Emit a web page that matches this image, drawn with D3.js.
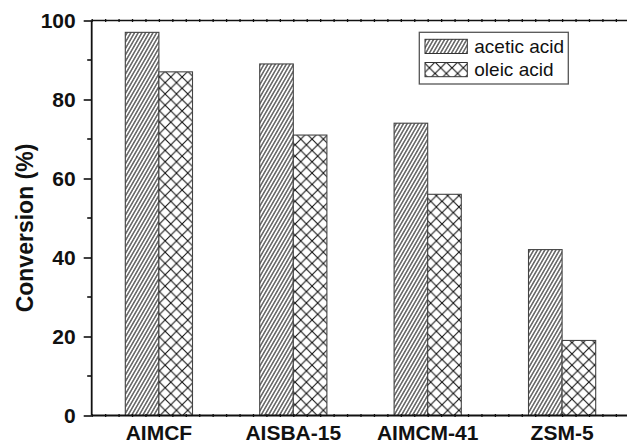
<!DOCTYPE html>
<html>
<head>
<meta charset="utf-8">
<script src="https://cdn.jsdelivr.net/npm/d3@7"></script>
<style>
  body { margin: 0; background: #fff; }
  svg { display: block; font-family: "Liberation Sans", Arial, Helvetica, sans-serif; }
</style>
</head>
<body>
<div id="chart"></div>
<script>
// catalysts on the x axis
var categories = ["AIMCF", "AISBA-15", "AIMCM-41", "ZSM-5"];
// conversion values (%) for each acid
var aceticValues = [97, 89, 74, 42];
var oleicValues = [87, 71, 56, 19];
var seriesNames = ["acetic acid", "oleic acid"];
// y tick values
var yMajorTicks = [0, 20, 40, 60, 80, 100];
var yMinorTicks = [10, 30, 50, 70, 90];

var svgWidth = 627;
var svgHeight = 444;
var margin = { left: 91.7, top: 20.5, right: -2.3, bottom: 28.5 };
var chartWidth = svgWidth - margin.left - margin.right;
var chartHeight = svgHeight - margin.top - margin.bottom;

var svg = d3.select("#chart").append("svg")
    .attr("width", svgWidth)
    .attr("height", svgHeight);

// hatch patterns
var defs = svg.append("defs");

var hatch = defs.append("pattern")
    .attr("id", "hatch")
    .attr("patternUnits", "userSpaceOnUse")
    .attr("width", 3.2)
    .attr("height", 10)
    .attr("patternTransform", "rotate(30)");
hatch.append("rect").attr("width", 3.2).attr("height", 10).attr("fill", "#fff");
hatch.append("line")
    .attr("x1", 1.6).attr("y1", 0).attr("x2", 1.6).attr("y2", 10)
    .attr("stroke", "#111").attr("stroke-width", 1);

var cross = defs.append("pattern")
    .attr("id", "cross")
    .attr("patternUnits", "userSpaceOnUse")
    .attr("width", 11.3)
    .attr("height", 11.3)
    .attr("x", 0)
    .attr("y", 0);
cross.append("rect").attr("width", 11.3).attr("height", 11.3).attr("fill", "#fff");
cross.append("path")
    .attr("d", "M0,0L11.3,11.3M11.3,0L0,11.3")
    .attr("stroke", "#111").attr("stroke-width", 1.1);

var chartGroup = svg.append("g")
    .attr("transform", `translate(${margin.left}, ${margin.top})`);

// scales
var xScale = d3.scaleLinear()
    .domain([0.5, categories.length + 0.5])
    .range([0, chartWidth]);

var yScale = d3.scaleLinear()
    .domain([0, 100])
    .range([chartHeight, 0]);

var barWidth = xScale(1.25) - xScale(1);

// bars
var patternIds = ["url(#hatch)", "url(#cross)"];
[aceticValues, oleicValues].forEach(function (values, s) {
    chartGroup.selectAll(".bar" + s)
        .data(values)
        .enter()
        .append("rect")
        .attr("class", "bar" + s)
        .attr("x", (d, i) => xScale(i + 1) - barWidth + s * barWidth)
        .attr("y", d => yScale(d))
        .attr("width", barWidth)
        .attr("height", d => yScale(0) - yScale(d))
        .attr("fill", patternIds[s])
        .attr("stroke", "#444")
        .attr("stroke-width", 1.1);
});

// minor x ticks (every 0.1) on bottom and top frame
var xMinor = d3.range(5, 10 * categories.length + 6).map(d => d / 10);
var bottomAxis = d3.axisBottom(xScale).tickValues(xMinor).tickSize(3).tickFormat("");
var topAxis = d3.axisBottom(xScale).tickValues(xMinor).tickSize(3).tickFormat("");

var gBottom = chartGroup.append("g")
    .attr("transform", `translate(0, ${chartHeight})`)
    .call(bottomAxis);
gBottom.selectAll(".tick line").attr("y1", -1.5).attr("y2", 1.5).attr("stroke", "#111").attr("stroke-width", 1.3);
gBottom.select(".domain").remove();

var gTop = chartGroup.append("g").call(topAxis);
gTop.selectAll(".tick line").attr("y1", -1.5).attr("y2", 1.5).attr("stroke", "#111").attr("stroke-width", 1.3);
gTop.select(".domain").remove();

// frame lines
chartGroup.append("line")
    .attr("x1", 0).attr("x2", chartWidth)
    .attr("y1", chartHeight).attr("y2", chartHeight)
    .attr("stroke", "#111").attr("stroke-width", 1.8);
chartGroup.append("line")
    .attr("x1", 0).attr("x2", chartWidth)
    .attr("y1", 0).attr("y2", 0)
    .attr("stroke", "#111").attr("stroke-width", 1.5);

// y axis
var yAxis = d3.axisLeft(yScale).tickValues(yMajorTicks).tickSize(8).tickPadding(8);
var gY = chartGroup.append("g").call(yAxis);
gY.select(".domain").remove();
gY.selectAll(".tick line").attr("stroke", "#111").attr("stroke-width", 1.6);
gY.selectAll(".tick text")
    .attr("font-size", "21px")
    .attr("font-weight", "bold")
    .attr("fill", "#111");

chartGroup.selectAll(".yminor")
    .data(yMinorTicks)
    .enter()
    .append("line")
    .attr("class", "yminor")
    .attr("x1", -4.5).attr("x2", 0)
    .attr("y1", d => yScale(d)).attr("y2", d => yScale(d))
    .attr("stroke", "#111").attr("stroke-width", 1.6);

chartGroup.append("line")
    .attr("x1", 0).attr("x2", 0)
    .attr("y1", 0).attr("y2", chartHeight)
    .attr("stroke", "#111").attr("stroke-width", 1.8);

// category labels
chartGroup.selectAll(".xlabel")
    .data(categories)
    .enter()
    .append("text")
    .attr("class", "xlabel")
    .attr("x", (d, i) => xScale(i + 1))
    .attr("y", chartHeight + 24)
    .attr("text-anchor", "middle")
    .attr("font-size", "21px")
    .attr("font-weight", "bold")
    .attr("fill", "#111")
    .text(d => d);

// y axis title
svg.append("text")
    .attr("transform", `translate(33, 228) rotate(-90)`)
    .attr("text-anchor", "middle")
    .attr("font-size", "23px")
    .attr("font-weight", "bold")
    .attr("fill", "#111")
    .text("Conversion (%)");

// legend
var legend = svg.append("g");
legend.append("rect")
    .attr("x", 419.3).attr("y", 32.3)
    .attr("width", 149).attr("height", 51.7)
    .attr("fill", "#fff")
    .attr("stroke", "#555")
    .attr("stroke-width", 1.3);

seriesNames.forEach(function (name, s) {
    legend.append("rect")
        .attr("x", 425).attr("y", 39.3 + s * 23.2)
        .attr("width", 42.3).attr("height", 14.2)
        .attr("fill", patternIds[s])
        .attr("stroke", "#333")
        .attr("stroke-width", 1);
    legend.append("text")
        .attr("x", 474.3).attr("y", 53 + s * 23.2)
        .attr("font-size", "19px")
        .attr("fill", "#111")
        .text(name);
});
</script>
</body>
</html>
